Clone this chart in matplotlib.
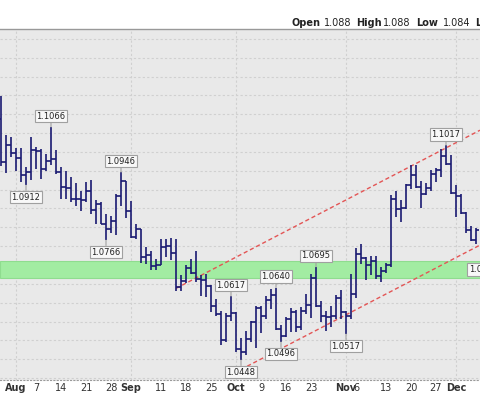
import matplotlib.pyplot as plt
import matplotlib.transforms as mtransforms
import numpy as np
import pandas as pd

# daily bars, 27 Jul - 7 Dec
dates = pd.bdate_range('2023-07-27', '2023-12-07')

opens = [1.1087, 1.0973, 1.1017, 1.0998, 1.0983, 1.0939, 1.0947, 1.1006, 1.1002, 1.0955,
         1.0975, 1.0980, 1.0948, 1.0906, 1.0904, 1.0874, 1.0874, 1.0872, 1.0895, 1.0846,
         1.0862, 1.0808, 1.0795, 1.0818, 1.0882, 1.0922, 1.0843, 1.0775, 1.0795, 1.0722,
         1.0726, 1.0697, 1.0699, 1.0748, 1.0751, 1.0733, 1.0642, 1.0658, 1.0691, 1.0678,
         1.0662, 1.0659, 1.0644, 1.0591, 1.0571, 1.0502, 1.0565, 1.0573, 1.0477, 1.0469,
         1.0503, 1.0549, 1.0586, 1.0564, 1.0606, 1.0620, 1.0530, 1.0512, 1.0558, 1.0575,
         1.0536, 1.0577, 1.0593, 1.0665, 1.0590, 1.0566, 1.0563, 1.0565, 1.0613, 1.0576,
         1.0566, 1.0622, 1.0729, 1.0718, 1.0699, 1.0710, 1.0670, 1.0683, 1.0700, 1.0876,
         1.0848, 1.0851, 1.0911, 1.0940, 1.0908, 1.0888, 1.0903, 1.0942, 1.0951, 1.0988,
         1.0969, 1.0892, 1.0882, 1.0837, 1.0794, 1.0766]
highs = [1.1149, 1.1045, 1.1040, 1.1010, 1.1010, 1.0960, 1.1040, 1.1012, 1.1008, 1.0995,
         1.1066, 1.1004, 1.0960, 1.0950, 1.0933, 1.0918, 1.0896, 1.0920, 1.0925, 1.0873,
         1.0868, 1.0835, 1.0830, 1.0888, 1.0946, 1.0924, 1.0870, 1.0808, 1.0796, 1.0749,
         1.0738, 1.0717, 1.0768, 1.0768, 1.0772, 1.0768, 1.0673, 1.0699, 1.0717, 1.0737,
         1.0673, 1.0675, 1.0646, 1.0609, 1.0577, 1.0574, 1.0617, 1.0576, 1.0507, 1.0524,
         1.0551, 1.0590, 1.0590, 1.0617, 1.0637, 1.0640, 1.0540, 1.0563, 1.0587, 1.0580,
         1.0588, 1.0622, 1.0675, 1.0695, 1.0604, 1.0577, 1.0591, 1.0620, 1.0634, 1.0578,
         1.0675, 1.0746, 1.0755, 1.0722, 1.0725, 1.0723, 1.0695, 1.0706, 1.0887, 1.0895,
         1.0872, 1.0916, 1.0965, 1.0966, 1.0922, 1.0917, 1.0952, 1.0957, 1.1009, 1.1017,
         1.0992, 1.0913, 1.0888, 1.0840, 1.0803, 1.0798]
lows = [1.0962, 1.0944, 1.0987, 1.0950, 1.0920, 1.0912, 1.0925, 1.0955, 1.0928, 1.0950,
        1.0965, 1.0942, 1.0875, 1.0874, 1.0866, 1.0856, 1.0842, 1.0868, 1.0834, 1.0810,
        1.0808, 1.0766, 1.0784, 1.0780, 1.0856, 1.0826, 1.0772, 1.0770, 1.0705, 1.0703,
        1.0686, 1.0687, 1.0699, 1.0722, 1.0714, 1.0632, 1.0632, 1.0653, 1.0675, 1.0656,
        1.0617, 1.0615, 1.0576, 1.0564, 1.0488, 1.0496, 1.0551, 1.0468, 1.0448, 1.0462,
        1.0497, 1.0481, 1.0520, 1.0556, 1.0582, 1.0527, 1.0496, 1.0508, 1.0522, 1.0523,
        1.0528, 1.0570, 1.0560, 1.0588, 1.0550, 1.0525, 1.0535, 1.0556, 1.0558, 1.0517,
        1.0558, 1.0613, 1.0704, 1.0661, 1.0674, 1.0663, 1.0656, 1.0679, 1.0695, 1.0828,
        1.0814, 1.0848, 1.0902, 1.0903, 1.0852, 1.0885, 1.0895, 1.0920, 1.0934, 1.0965,
        1.0888, 1.0828, 1.0835, 1.0786, 1.0764, 1.0757]
closes = [1.0973, 1.1017, 1.0998, 1.0983, 1.0939, 1.0947, 1.1006, 1.1002, 1.0955, 1.0975,
          1.0980, 1.0948, 1.0906, 1.0904, 1.0874, 1.0874, 1.0872, 1.0895, 1.0846, 1.0862,
          1.0808, 1.0795, 1.0818, 1.0882, 1.0922, 1.0843, 1.0775, 1.0795, 1.0722, 1.0726,
          1.0697, 1.0699, 1.0748, 1.0751, 1.0733, 1.0642, 1.0658, 1.0691, 1.0678, 1.0662,
          1.0659, 1.0644, 1.0591, 1.0571, 1.0502, 1.0565, 1.0573, 1.0477, 1.0469, 1.0503,
          1.0549, 1.0586, 1.0564, 1.0606, 1.0620, 1.0530, 1.0512, 1.0558, 1.0575, 1.0536,
          1.0577, 1.0593, 1.0665, 1.0590, 1.0566, 1.0563, 1.0565, 1.0613, 1.0576, 1.0566,
          1.0622, 1.0729, 1.0718, 1.0699, 1.0710, 1.0670, 1.0683, 1.0700, 1.0876, 1.0848,
          1.0851, 1.0911, 1.0940, 1.0908, 1.0888, 1.0903, 1.0942, 1.0951, 1.0988, 1.0969,
          1.0892, 1.0882, 1.0837, 1.0794, 1.0766, 1.0794]

# labelled highs / lows
callouts = [('2023-08-10', 'high'), ('2023-08-03', 'low'), ('2023-08-30', 'high'),
            ('2023-08-25', 'low'), ('2023-09-29', 'high'), ('2023-10-03', 'low'),
            ('2023-10-12', 'high'), ('2023-10-13', 'low'), ('2023-10-24', 'high'),
            ('2023-11-01', 'low'), ('2023-11-29', 'high')]

band_lo, band_hi = 1.0666, 1.0710
band_label = '1.0688'

# trend channel: start points and slope per bar
upper_start = ('2023-09-14', 1.0638)
lower_start = ('2023-10-03', 1.0423)
channel_slope = 0.00069

week_ticks = ['2023-08-07', '2023-08-14', '2023-08-21', '2023-08-28', '2023-09-11',
              '2023-09-18', '2023-09-25', '2023-10-09', '2023-10-16', '2023-10-23',
              '2023-11-06', '2023-11-13', '2023-11-20', '2023-11-27']
month_ticks = ['2023-08-01', '2023-09-01', '2023-10-02', '2023-11-01', '2023-12-01']

header = [('Open', True, 291), ('1.088', False, 324), ('High', True, 356), ('1.088', False, 383),
          ('Low', True, 416), ('1.084', False, 443), ('Last', True, 475)]

W, H = 480, 396
fig = plt.figure(figsize=(W / 100, H / 100), dpi=100)
ax = fig.add_axes([0, 16 / H, 1, (380 - 29) / H])
ax.set_facecolor('#e9e9e9')

pos = {d.strftime('%Y-%m-%d'): i for i, d in enumerate(dates)}
idx = np.arange(len(dates))

ax.set_xlim(-0.2, len(dates) - 0.2)
ax.set_ylim(1.0395, 1.1326)

# grid
for y in np.arange(1.040, 1.131, 0.005):
    ax.axhline(y, color='#d0d0d0', lw=0.8, ls=(0, (2, 2)), zorder=0)
for m in month_ticks:
    ax.axvline(pos[m], color='#d0d0d0', lw=0.8, ls=(0, (2, 2)), zorder=0)

ax.axhspan(band_lo, band_hi, facecolor='#a2eca2', edgecolor='#8fdc8f', lw=0.8, zorder=1)

# channel
xr = len(dates) - 0.2
for d, v in (upper_start, lower_start):
    i0 = pos[d]
    ax.plot([i0, xr], [v, v + channel_slope * (xr - i0)], color='#e35555', lw=1.0,
            ls=(0, (3, 2)), zorder=2)

# OHLC bars
bc = '#1a1a72'
ax.vlines(idx, lows, highs, color=bc, lw=1.2, zorder=3)
ax.hlines(opens, idx - 0.5, idx, color=bc, lw=1.2, zorder=3)
ax.hlines(closes, idx, idx + 0.5, color=bc, lw=1.2, zorder=3)

box = dict(boxstyle='square,pad=0.2', fc='#f8f8f8', ec='#a0a0a0', lw=0.8)
for d, kind in callouts:
    i = pos[d]
    v = highs[i] if kind == 'high' else lows[i]
    off = 11 if kind == 'high' else -12
    ax.annotate(f'{v:.4f}', (i, v), xytext=(0, off), textcoords='offset pixels',
                ha='center', va='center', fontsize=6, color='#222222', bbox=box,
                arrowprops=dict(arrowstyle='-', color='#a0a0a0', lw=0.8,
                                shrinkA=0, shrinkB=0), zorder=5)

ax.text(93.6, (band_lo + band_hi) / 2, band_label, ha='left', va='center', fontsize=6,
        color='#222222', bbox=box, zorder=5, clip_on=False)

# axes styling
ax.set_yticks([])
for s in ('left', 'right'):
    ax.spines[s].set_visible(False)
ax.spines['top'].set_color('#999999')
ax.spines['top'].set_linewidth(1.0)
ax.spines['bottom'].set_color('#9a9a9a')
ax.spines['bottom'].set_linestyle((0, (1, 2)))

tick_pos = [pos[d] for d in month_ticks + week_ticks]
tick_lab = [pd.Timestamp(d).strftime('%b') for d in month_ticks] + \
           [str(pd.Timestamp(d).day) for d in week_ticks]
ax.set_xticks(tick_pos)
ax.set_xticklabels(tick_lab)
ax.tick_params(axis='x', length=0, pad=2, labelsize=7, labelcolor='#333333')
for lab in ax.get_xticklabels():
    if lab.get_text().isalpha():
        lab.set_fontweight('bold')
    if lab.get_text() == '6':
        lab.set_transform(lab.get_transform() +
                          mtransforms.ScaledTranslation(-0.05, 0, fig.dpi_scale_trans))

for txt, bold, px in header:
    fig.text(px / W, 1 - 23 / H, txt, ha='left', va='center', fontsize=7,
             fontweight='bold' if bold else 'normal', color='#222222')

fig.savefig('out.png', dpi=100)
